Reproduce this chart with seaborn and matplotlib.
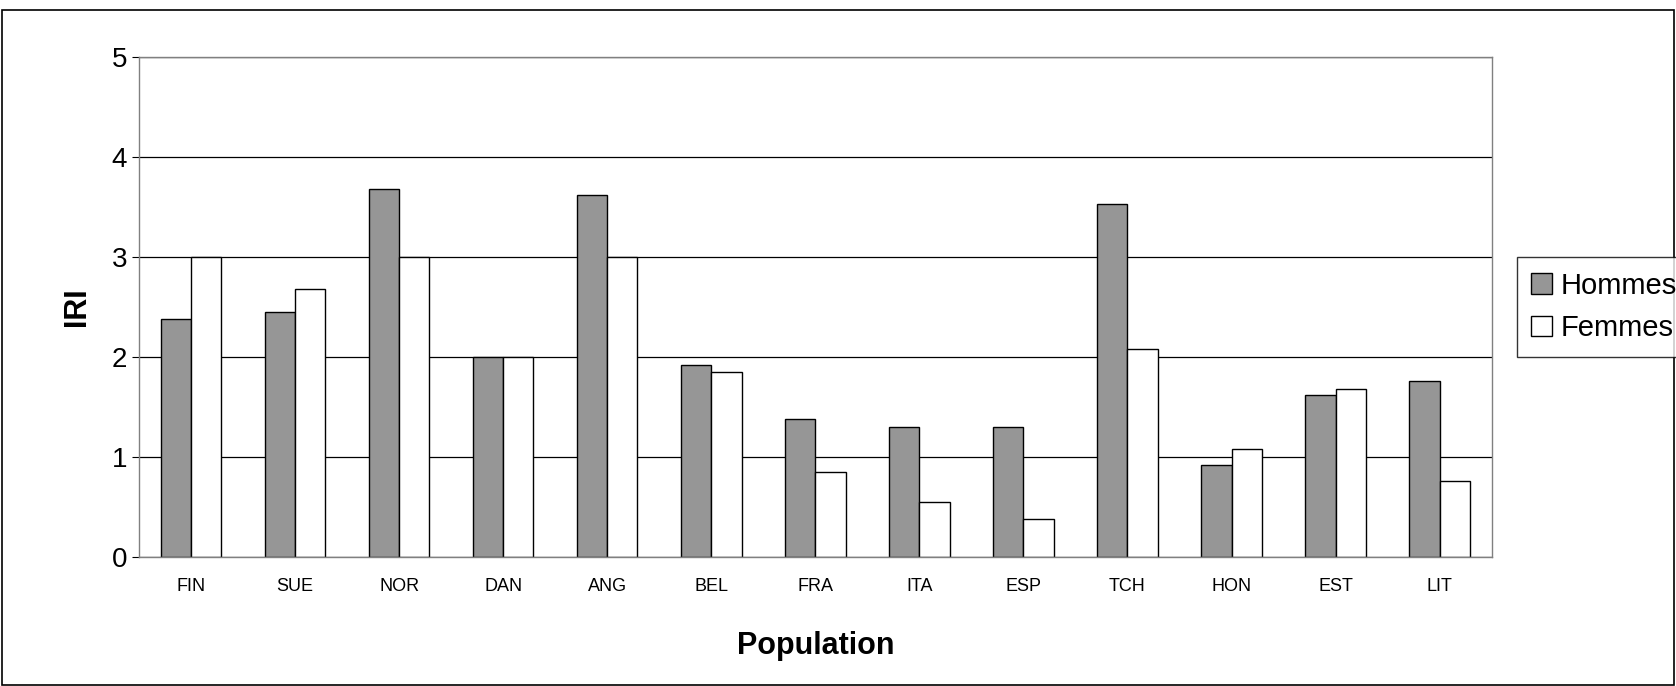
import matplotlib
matplotlib.use("Agg")
import matplotlib.pyplot as plt
import seaborn as sns
import pandas as pd
from matplotlib.patches import Rectangle

populations = ["FIN", "SUE", "NOR", "DAN", "ANG", "BEL", "FRA", "ITA", "ESP", "TCH", "HON", "EST", "LIT"]
hommes = [2.38, 2.45, 3.68, 2.0, 3.62, 1.92, 1.38, 1.3, 1.3, 3.53, 0.92, 1.62, 1.76]
femmes = [3.0, 2.68, 3.0, 2.0, 3.0, 1.85, 0.85, 0.55, 0.38, 2.08, 1.08, 1.68, 0.76]

df = pd.DataFrame({
    "Population": populations * 2,
    "IRI": hommes + femmes,
    "Sexe": ["Hommes"] * len(hommes) + ["Femmes"] * len(femmes),
})

sns.set_style("white")
plt.rcParams["font.family"] = ["Liberation Sans", "DejaVu Sans"]
plt.rcParams["text.color"] = "black"
plt.rcParams["axes.labelcolor"] = "black"
plt.rcParams["xtick.color"] = "black"
plt.rcParams["ytick.color"] = "black"

fig = plt.figure(figsize=(16.76, 6.86), dpi=100)
ax = fig.add_axes([0.083, 0.188, 0.807, 0.729])
sns.barplot(data=df, x="Population", y="IRI", hue="Sexe",
            palette=["#969696", "#ffffff"], edgecolor="black", linewidth=1,
            width=0.58, ax=ax, legend=False)

ax.set_ylim(0, 5)
ax.set_yticks(range(6))
ax.yaxis.grid(True, color="black", linewidth=0.9)
ax.set_axisbelow(True)
for s in ax.spines.values():
    s.set_color("#808080")
    s.set_linewidth(1)
ax.tick_params(axis="y", labelsize=20, length=5, left=True)
ax.tick_params(axis="x", labelsize=13, length=0, pad=15)
ax.set_xlabel("Population", fontsize=22, fontweight="bold", labelpad=26)
ax.set_ylabel("IRI", fontsize=22, fontweight="bold", labelpad=14)

handles = [Rectangle((0, 0), 1, 1, facecolor="#969696", edgecolor="black"),
           Rectangle((0, 0), 1, 1, facecolor="#ffffff", edgecolor="black")]
leg = fig.legend(handles, ["Hommes", "Femmes"], loc="upper left",
                 bbox_to_anchor=(0.905, 0.625), fontsize=21, frameon=True,
                 fancybox=False, edgecolor="black", handlelength=0.7,
                 handleheight=0.7, handletextpad=0.3, borderaxespad=0,
                 borderpad=0.5)

fig.patches.append(Rectangle((0.001, 0.001), 0.998, 0.984, transform=fig.transFigure,
                             fill=False, edgecolor="black", linewidth=1.2))
fig.savefig("out.png", dpi=100)
